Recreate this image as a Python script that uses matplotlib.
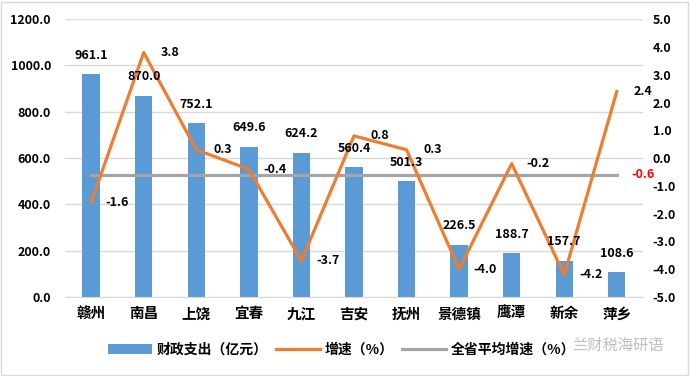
import matplotlib
matplotlib.use("Agg")
import matplotlib.pyplot as plt
from matplotlib.patches import Rectangle
import numpy as np

plt.rcParams['font.family'] = ['Noto Sans CJK SC', 'DejaVu Sans']
plt.rcParams['font.weight'] = 'bold'

# ---------------- data ----------------
cities = ['赣州', '南昌', '上饶', '宜春', '九江', '吉安', '抚州', '景德镇', '鹰潭', '新余', '萍乡']
spend = [961.1, 870.0, 752.1, 649.6, 624.2, 560.4, 501.3, 226.5, 188.7, 157.7, 108.6]
growth = [-1.6, 3.8, 0.3, -0.4, -3.7, 0.8, 0.3, -4.0, -0.2, -4.2, 2.4]
avg_growth = -0.6
left_ticks = [0, 200, 400, 600, 800, 1000, 1200]
right_ticks = [-5, -4, -3, -2, -1, 0, 1, 2, 3, 4, 5]

blue = '#5B9BD5'
orange = '#ED7D31'
grey = '#A5A5A5'

fig = plt.figure(figsize=(6.9, 3.76), dpi=100)
ax = fig.add_axes([0.094, 0.21, 0.838, 0.739])
ax2 = ax.twinx()

x = np.arange(len(cities))
ax.bar(x, spend, width=0.33, color=blue, zorder=2, label='财政支出（亿元）')
ax.set_ylim(0, 1200)
ax.set_yticks(left_ticks)
ax.set_yticklabels(['%.1f' % v for v in left_ticks], fontsize=9, fontweight='bold')
ax.set_xlim(-0.5, len(cities) - 0.5)
ax.set_xticks(x)
ax.set_xticklabels(cities, fontsize=10.5, fontweight='bold')
ax.grid(axis='y', color='#D9D9D9', linewidth=1, zorder=0)
ax.tick_params(axis='both', length=0)
ax.tick_params(axis='y', pad=10)
ax.tick_params(axis='x', pad=6)
for s in ['top', 'left', 'right']:
    ax.spines[s].set_visible(False)
ax.spines['bottom'].set_color('#D9D9D9')

ax2.plot([x[0], x[-1]], [avg_growth, avg_growth], color=grey, linewidth=2.3, zorder=2,
         label='全省平均增速（%）')
ax2.plot(x, growth, color=orange, linewidth=2.3, zorder=3, label='增速（%）')
ax2.set_ylim(-5, 5)
ax2.set_yticks(right_ticks)
ax2.set_yticklabels(['%.1f' % v for v in right_ticks], fontsize=9, fontweight='bold')
ax2.tick_params(axis='y', length=0, pad=7)
for s in ['top', 'left', 'right', 'bottom']:
    ax2.spines[s].set_visible(False)

# bar value labels, centred above each bar (drawn on ax2 so they sit over the line)
for i, v in enumerate(spend):
    ax2.annotate('%.1f' % v, (x[i], v), xycoords=ax.transData, xytext=(0, 13.5),
                 textcoords='offset points', ha='center', va='center', fontsize=9,
                 fontweight='bold', zorder=5)

# growth labels to the right of each point
for i, v in enumerate(growth):
    ax2.annotate('%.1f' % v, (x[i], v), xytext=(19, 0), textcoords='offset points',
                 ha='center', va='center', fontsize=9, fontweight='bold', zorder=5)
ax2.annotate('%.1f' % avg_growth, (x[-1], avg_growth), xytext=(19, 0), textcoords='offset points',
             ha='center', va='center', fontsize=9, fontweight='bold', color='red', zorder=5)

h1, l1 = ax.get_legend_handles_labels()
h2, l2 = ax2.get_legend_handles_labels()
handles = h1 + [h2[1], h2[0]]
labels = l1 + [l2[1], l2[0]]
fig.legend(handles, labels, loc='center', bbox_to_anchor=(0.495, 0.07), ncol=3, frameon=False,
           handlelength=3.2, handletextpad=0.3, columnspacing=0.6,
           prop={'weight': 'bold', 'size': 10})

fig.text(0.895, 0.082, '兰财税海研语', fontsize=11, color='#BFBFBF', ha='center', va='center',
         fontweight='normal')

fig.patches.append(Rectangle((0.002, 0.003), 0.995, 0.993, transform=fig.transFigure,
                             fill=False, edgecolor='#D9D9D9', linewidth=1))

fig.savefig('out.png', dpi=100)
